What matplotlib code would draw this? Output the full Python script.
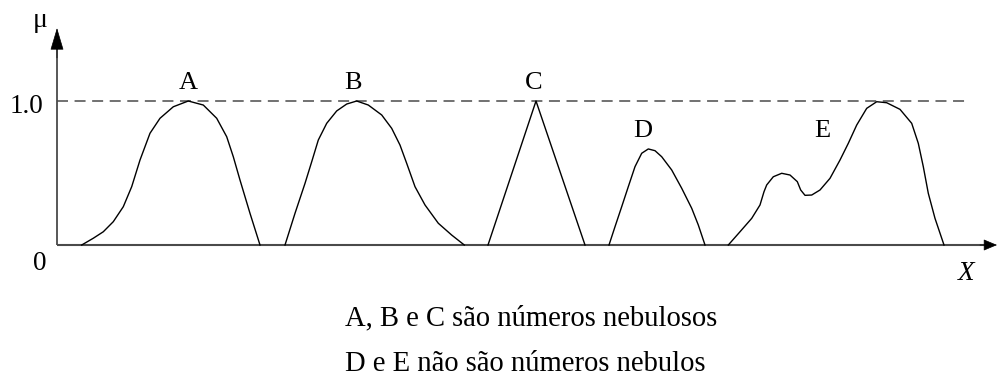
import matplotlib
matplotlib.use("Agg")
import matplotlib.pyplot as plt

plt.rcParams["font.family"] = ["Liberation Serif", "DejaVu Serif"]

# membership functions, x on the universe axis, mu in [0, 1]
a_x = [81.7, 93.3, 103.3, 113.3, 123.3, 131.7, 140, 150, 160, 173.3, 188.3,
       203.3, 216.7, 226.7, 233.3, 240, 250, 260]
a_mu = [0, 0.047, 0.092, 0.162, 0.266, 0.405, 0.590, 0.776, 0.880, 0.960, 1.0,
        0.972, 0.880, 0.752, 0.613, 0.451, 0.220, 0]

b_x = [285, 295, 305, 311.7, 318.3, 326.7, 336.7, 346.7, 356.7, 368.3, 381.7,
       391.7, 400, 406.7, 415, 425, 438.3, 451.7, 464.3]
b_mu = [0, 0.220, 0.428, 0.578, 0.729, 0.845, 0.931, 0.979, 1.0, 0.972, 0.903,
        0.810, 0.694, 0.567, 0.405, 0.278, 0.151, 0.069, 0]

c_x = [488, 536, 585]
c_mu = [0, 1.0, 0]

d_x = [609, 615, 621.7, 628.3, 635, 641.7, 648.3, 655, 661.7, 671.7, 681.7,
       691.7, 698.3, 705]
d_mu = [0, 0.127, 0.266, 0.405, 0.544, 0.637, 0.667, 0.655, 0.613, 0.521,
        0.394, 0.255, 0.139, 0]

e_x = [728.3, 740, 751.7, 760, 764, 766.7, 773.3, 781.7, 790, 797.3, 800.7,
       805, 811.7, 820, 830, 840, 848.3, 856.7, 866.7, 876.7, 886.7, 900,
       911.7, 918.3, 923.3, 928.3, 935, 944]
e_mu = [0, 0.092, 0.185, 0.278, 0.370, 0.417, 0.474, 0.498, 0.486, 0.440,
        0.382, 0.345, 0.347, 0.382, 0.463, 0.590, 0.706, 0.833, 0.949, 0.995,
        0.988, 0.942, 0.845, 0.706, 0.544, 0.359, 0.185, 0]

curves = [(a_x, a_mu), (b_x, b_mu), (c_x, c_mu), (d_x, d_mu), (e_x, e_mu)]
names = ["A", "B", "C", "D", "E"]
name_x = [188, 353, 534, 643, 822]
name_mu = [1.083, 1.083, 1.083, 0.75, 0.75]

notes = ["A, B e C são números nebulosos", "D e E não são números nebulos"]

fig = plt.figure(figsize=(9.97, 3.81), dpi=100)
ax = fig.add_axes([0, 0, 1, 1])
ax.set_xlim(0, 997)
ax.set_ylim(-0.9444, 1.7014)
ax.axis("off")

axis_col = "#4a4a4a"
# axes with arrow heads
ax.plot([57, 988], [0, 0], color=axis_col, lw=1.5, solid_capstyle="butt")
ax.plot([57, 57], [0, 1.40], color=axis_col, lw=1.3, solid_capstyle="butt")
ax.annotate("", xy=(997, 0), xytext=(980, 0),
            arrowprops=dict(arrowstyle="-|>,head_length=8.6,head_width=3.6",
                            mutation_scale=1, color="black", lw=0.5,
                            shrinkA=0, shrinkB=0))
ax.annotate("", xy=(57, 1.507), xytext=(57, 1.30),
            arrowprops=dict(arrowstyle="-|>,head_length=14.4,head_width=4.3",
                            mutation_scale=1, color="black", lw=0.5,
                            shrinkA=0, shrinkB=0))

# level 1.0
ax.plot([57, 969], [1, 1], color=axis_col, lw=1.1, dashes=(7.2, 4.3))

for cx, cm in curves:
    ax.plot(cx, cm, color="black", lw=1.0, solid_joinstyle="round")

for n, nx, nm in zip(names, name_x, name_mu):
    ax.text(nx, nm, n, ha="center", va="baseline", fontsize=19)

ax.text(43, 0.917, "1.0", ha="right", va="baseline", fontsize=19.5)
ax.text(40.5, 1.514, "μ", ha="center", va="baseline", fontsize=20)
ax.text(39.5, -0.174, "0", ha="center", va="baseline", fontsize=19.5)
ax.text(966, -0.243, "X", ha="center", va="baseline", fontsize=19.5,
        style="italic")

ax.text(345, -0.556, notes[0], ha="left", va="baseline", fontsize=20.6)
ax.text(345, -0.875, notes[1], ha="left", va="baseline", fontsize=20.6)

fig.savefig("out.png", dpi=100)
